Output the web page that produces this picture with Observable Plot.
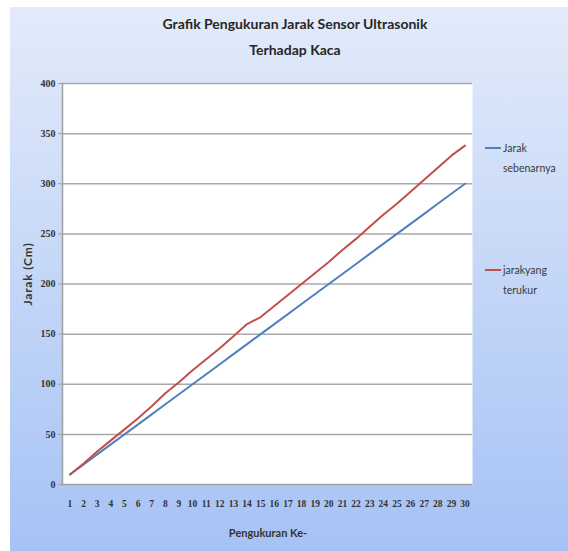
<!DOCTYPE html>
<html><head><meta charset="utf-8">
<script src="https://cdn.jsdelivr.net/npm/d3@7"></script>
<script src="https://cdn.jsdelivr.net/npm/@observablehq/plot@0.6"></script>
<style>
body{margin:0;background:#fff;}
#wrap{position:relative;width:568px;height:551px;overflow:hidden;}
#panel{position:absolute;left:10px;top:7px;width:558px;height:544px;background:linear-gradient(#e3ebfa,#a6c2f5);}
#chart{position:absolute;left:0;top:0;}
.t{position:absolute;font-family:Lato,"Open Sans",sans-serif;color:#333;white-space:nowrap;}
.title{font-weight:bold;font-size:14px;left:0;width:590px;text-align:center;color:#262626;}
.leg{font-size:10.5px;line-height:20px;color:#3a3a3a;}
.sw{position:absolute;width:16px;height:2px;}
</style></head>
<body>
<div id="wrap">
  <div id="panel"></div>
  <div id="chart"></div>
  <div class="t title" style="top:15px;">Grafik Pengukuran Jarak Sensor Ultrasonik</div>
  <div class="t title" style="top:41px;">Terhadap Kaca</div>
  <div class="t" style="left:27px;top:274px;transform:translate(-50%,-50%) rotate(-90deg);font-weight:bold;font-size:12px;letter-spacing:0.8px;">Jarak (Cm)</div>
  <div class="t" style="left:268px;top:532px;transform:translate(-50%,-50%);font-weight:bold;font-size:11px;">Pengukuran Ke-</div>
  <div class="sw" style="left:485px;top:147px;background:#4f81bd;"></div>
  <div class="t leg" style="left:503px;top:138px;">Jarak<br>sebenarnya</div>
  <div class="sw" style="left:485px;top:269px;background:#c0504d;"></div>
  <div class="t leg" style="left:503px;top:260px;">jarakyang<br>terukur</div>
</div>
<script>
const pengukuran = [1,2,3,4,5,6,7,8,9,10,11,12,13,14,15,16,17,18,19,20,21,22,23,24,25,26,27,28,29,30];
const jarakSebenarnya = [10,20,30,40,50,60,70,80,90,100,110,120,130,140,150,160,170,180,190,200,210,220,230,240,250,260,270,280,290,300];
const jarakTerukur = [10,21,33,44,55,66,78,91,102,114,125,136,148,160,167,178,189,200,211,222,234,245,257,269,280,292,304,316,328,338];
const yTicks = [0,50,100,150,200,250,300,350,400];
const gridTicks = [50,100,150,200,250,300,350,400];

const blue = pengukuran.map((k,i)=>({k, v: jarakSebenarnya[i]}));
const red = pengukuran.map((k,i)=>({k, v: jarakTerukur[i]}));

const chart = Plot.plot({
  width: 568, height: 551,
  marginLeft: 62, marginRight: 96, marginTop: 83, marginBottom: 67,
  style: {background: "transparent", fontFamily: "'Liberation Serif', serif", fontSize: "10px", fontWeight: "bold", color: "#333"},
  x: {type: "point", domain: pengukuran, padding: 0.55, round: false, label: null},
  y: {domain: [0, 400], label: null},
  marks: [
    Plot.frame({fill: "white", stroke: "none"}),
    Plot.gridY(gridTicks, {stroke: "#a8a8a8", strokeOpacity: 1, strokeWidth: 1.5}),
    Plot.frame({anchor: "left", stroke: "#a0a0a0", strokeWidth: 1.5}),
    Plot.ruleY([0], {stroke: "#a0a0a0", strokeWidth: 1.5}),
    Plot.axisY(yTicks, {tickSize: 4, tickPadding: 3, stroke: "#a0a0a0", fontSize: 10, label: null}),
    Plot.axisX(pengukuran, {tickSize: 0, tickPadding: 16, fontSize: 9.5, label: null}),
    Plot.lineY(blue, {x: "k", y: "v", stroke: "#4f81bd", strokeWidth: 2}),
    Plot.lineY(red, {x: "k", y: "v", stroke: "#c0504d", strokeWidth: 2})
  ]
});
document.getElementById("chart").appendChild(chart);
</script>
</body></html>
